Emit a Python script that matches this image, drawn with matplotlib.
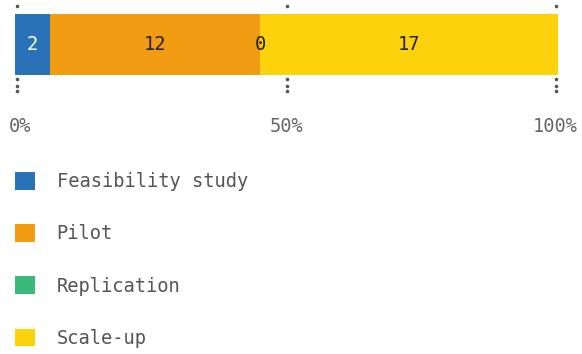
import matplotlib
matplotlib.use("Agg")
import numpy as np
from matplotlib import pyplot as plt
from matplotlib.patches import Patch
from matplotlib.transforms import ScaledTranslation

# data
categories = ["Feasibility study", "Pilot", "Replication", "Scale-up"]
counts = [2, 12, 0, 17]
colors = ["#2a72b8", "#f29c13", "#3bb97a", "#fcd20d"]
label_colors = ["white", "#222222", "#222222", "#222222"]
tick_vals = [0, 50, 100]
tick_labels = ["0%", "50%", "100%"]

plt.rcParams["font.family"] = ["DejaVu Sans Mono"]
fs = 13.5

fig = plt.figure(figsize=(5.82, 3.54), dpi=100)
W, H = 582, 354
# axes spans x 15..558 px, y 6..92 px (top-down)
ax = fig.add_axes([15 / W, 1 - 92 / H, (558 - 15) / W, (92 - 6) / H])

total = sum(counts)
pct = [c / total * 100 for c in counts]
left = 0
bar_bottom = (92 - 75) / 86
bar_height = (75 - 14) / 86
for p, c, col, lc in zip(pct, counts, colors, label_colors):
    bars = ax.barh(bar_bottom, p, height=bar_height, left=left, color=col,
                   align="edge", zorder=2)
    ax.bar_label(bars, labels=[str(c)], label_type="center", color=lc,
                 fontsize=fs)
    left += p

# dotted grid marks at 0/50/100 (only the bits outside the bar show)
nudge = {0: 0.3, 50: 0, 100: -0.3}
dot_y = [1.0, 0.151, 0.070, 0.012]
for t in tick_vals:
    x = t + nudge[t]
    ax.plot([x] * len(dot_y), dot_y, "o", color="#555555", ms=2.6,
            mec="none", zorder=1, clip_on=False)

ax.set_xlim(0, 100)
ax.set_ylim(0, 1)
ax.set_xticks(tick_vals)
ax.set_xticklabels(tick_labels, fontsize=fs, color="#666666")
ax.tick_params(axis="x", length=0, pad=18)
ax.set_yticks([])
for s in ax.spines.values():
    s.set_visible(False)

# keep the end labels a bit inside, like the original
shifts = [5, 0, -3]
for lab, dx in zip(ax.get_xticklabels(), shifts):
    lab.set_transform(lab.get_transform() + ScaledTranslation(dx / 100, 0, fig.dpi_scale_trans))

handles = [Patch(facecolor=c, edgecolor="none") for c in colors]
fig.legend(handles, categories, loc="upper left",
           bbox_to_anchor=(15 / W, 1 - 172 / H), frameon=False,
           fontsize=fs, labelcolor="#555555", handlelength=1.07,
           handleheight=1.07, handletextpad=1.15, labelspacing=1.76,
           borderpad=0, borderaxespad=0)

fig.savefig("out.png", dpi=100)
